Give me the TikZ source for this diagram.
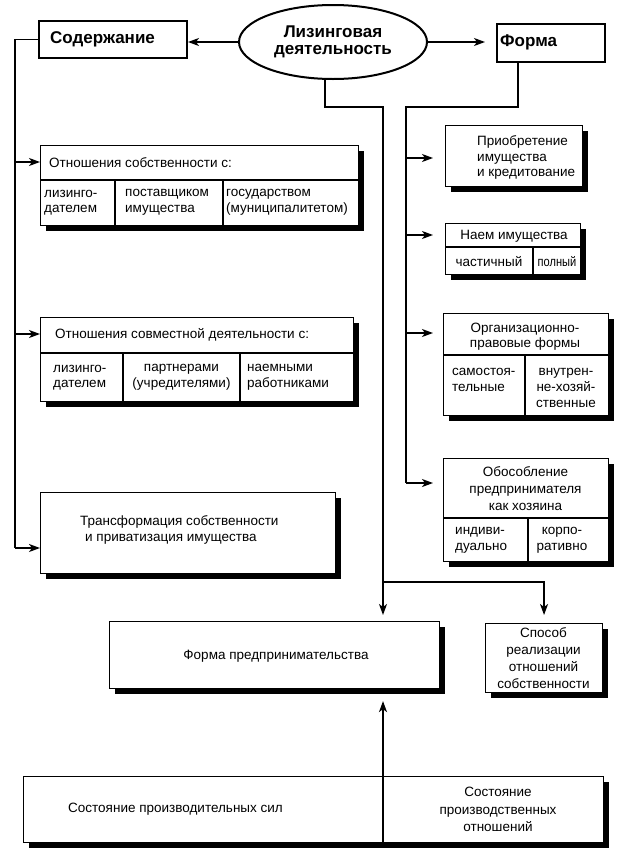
\documentclass[tikz,border=0pt]{standalone}
\usepackage{fontspec}
\usepackage{graphicx}
\setmainfont{Liberation Sans}
\usetikzlibrary{shapes.geometric,shadows,arrows.meta,calc}
\tikzset{
  bx/.style={draw, line width=1.1pt, fill=white, inner sep=0pt, anchor=north west,
    drop shadow={shadow xshift=5pt, shadow yshift=-5pt, opacity=1, fill=black}},
  hb/.style={draw, line width=2pt, fill=white, inner sep=0pt, anchor=north west},
  dv/.style={line width=1.1pt},
  ln/.style={line width=1.5pt},
  arr/.style={line width=1.5pt, -{Stealth[length=11pt,width=8pt,inset=3pt]}},
  tx/.style={inner sep=0pt, font=\fontsize{13.5}{15.5}\selectfont, align=left},
  txc/.style={inner sep=0pt, font=\fontsize{13.5}{15.5}\selectfont, align=center},
  txw/.style={inner sep=0pt, font=\fontsize{13.5}{17}\selectfont, align=center},
  big/.style={inner sep=0pt, font=\fontsize{17}{17}\selectfont\bfseries, align=center},
}
\begin{document}
\begin{tikzpicture}[x=1pt,y=-1pt]
\fill[white] (0,0) rectangle (628,868);
\useasboundingbox (0,0) rectangle (628,868);

% top nodes
\node[ellipse, draw, line width=2pt, minimum width=188pt, minimum height=74pt, inner sep=0pt, big] (ell) at (333,42) {Лизинговая\\деятельность};
\node[hb, minimum width=148pt, minimum height=37pt] (sod) at (38,20) {};
\node[big, anchor=west] (sodt) at (50,39) {Содержание};
\node[hb, minimum width=108pt, minimum height=38pt] (form) at (496,23) {};
\node[big, anchor=west] (formt) at (500,42) {Форма};

% left boxes
\node[bx, minimum width=318pt, minimum height=80pt] (b1) at (40,145) {};
\draw[dv] (b1.west |- 0,180) -- (b1.east |- 0,180);
\draw[dv] (115,180) -- (115,225);
\draw[dv] (223,180) -- (223,225);
\node[tx, anchor=west] (b1h) at (49,163) {Отношения собственности с:};
\node[tx, anchor=west] (b1a) at (44,202.5) {лизинго-\\дателем};
\node[tx, anchor=west] (b1b) at (125,202.5) {поставщиком\\имущества};
\node[tx, anchor=west] (b1c) at (226,202.5) {государством\\(муниципалитетом)};

\node[bx, minimum width=313pt, minimum height=84pt] (b2) at (40,317) {};
\draw[dv] (b2.west |- 0,353) -- (b2.east |- 0,353);
\draw[dv] (123,353) -- (123,401);
\draw[dv] (240,353) -- (240,401);
\node[tx, anchor=west] (b2h) at (55,335) {Отношения совместной деятельности с:};
\node[tx, anchor=west] (b2a) at (53,377.5) {лизинго-\\дателем};
\node[txc] (b2b) at (181.5,377.5) {партнерами\\(учредителями)};
\node[tx, anchor=west] (b2c) at (247,377.5) {наемными\\работниками};

\node[bx, minimum width=295pt, minimum height=81pt] (b3) at (40,492) {};
\node[tx, anchor=west] (b3t) at (80,530) {Трансформация собственности\\\hspace*{5pt}и приватизация имущества};

% right boxes
\node[bx, minimum width=137pt, minimum height=61pt] (r1) at (445,125) {};
\node[tx, anchor=west] (r1t) at (477,157.5) {Приобретение\\имущества\\и кредитование};

\node[bx, minimum width=135pt, minimum height=51pt] (r2) at (445,223) {};
\draw[dv] (r2.west |- 0,247) -- (r2.east |- 0,247);
\draw[dv] (533,247) -- (533,274);
\node[txc] (r2h) at (514,236) {Наем имущества};
\node[txc] (r2a) at (489,261.5) {частичный};
\node[txc] (r2b) at (557,261.5) {\scalebox{0.82}[1]{полный}};

\node[bx, minimum width=165pt, minimum height=102pt] (r3) at (443,313) {};
\draw[dv] (r3.west |- 0,355) -- (r3.east |- 0,355);
\draw[dv] (525,355) -- (525,415);
\node[txc] (r3h) at (525,336.5) {Организационно-\\правовые формы};
\node[tx, anchor=west] (r3a) at (452,380) {самостоя-\\тельные};
\node[txw, font=\fontsize{13.5}{16}\selectfont] (r3b) at (566,388) {внутрен-\\не-хозяй-\\ственные};

\node[bx, minimum width=165pt, minimum height=103pt] (r4) at (443,458) {};
\draw[dv] (r4.west |- 0,518) -- (r4.east |- 0,518);
\draw[dv] (528,518) -- (528,561);
\node[txw] (r4h) at (525.5,488.5) {Обособление\\предпринимателя\\как хозяина};
\node[tx, anchor=west] (r4a) at (455,540.5) {индиви-\\дуально};
\node[txc] (r4b) at (562,540.5) {корпо-\\ративно};

% bottom boxes
\node[bx, minimum width=330pt, minimum height=67pt] (fp) at (109,621) {};
\node[txc] (fpt) at (276,656) {Форма предпринимательства};
\node[bx, minimum width=117pt, minimum height=69pt] (sp) at (485,623) {};
\node[txw] (spt) at (543.5,658.5) {Способ\\реализации\\отношений\\собственности};
\node[bx, minimum width=580pt, minimum height=66pt] (bt) at (23,776) {};
\coordinate (dvx) at (383,776);
\draw[dv] (dvx) -- (dvx |- bt.south);
\node[tx, anchor=west] (btl) at (68,809) {Состояние производительных сил};
\node[txw, font=\fontsize{13.5}{17.5}\selectfont] (btr) at (498,809.5) {Состояние\\производственных\\отношений};

% top arrows
\draw[arr] (ell.west) -- (ell.west -| sod.east);
\draw[arr, shorten >=11pt] (ell.east) -- (ell.east -| form.west);

% left trunk
\coordinate (lb) at (15,548);
\coordinate (l1) at (15,162);
\coordinate (l2) at (15,334);
\draw[ln] (sod.west) -| (lb);
\draw[arr] (l1) -- (l1 -| b1.west);
\draw[arr] (l2) -- (l2 -| b2.west);
\draw[arr] (lb) -- (lb -| b3.west);

% right trunk
\coordinate (fdrop) at ($(form.south west)!0.2!(form.south east)$);
\coordinate (rt) at (406,107);
\coordinate (q1) at (406,158);
\coordinate (q2) at (406,235);
\coordinate (q3) at (406,333);
\coordinate (q4) at (406,483);
\draw[ln] (fdrop) |- (rt) -- (q4);
\draw[arr, shorten >=12pt] (q1) -- (q1 -| r1.west);
\draw[arr, shorten >=12pt] (q2) -- (q2 -| r2.west);
\draw[arr, shorten >=10pt] (q3) -- (q3 -| r3.west);
\draw[arr, shorten >=10pt] (q4) -- (q4 -| r4.west);

% central trunk
\coordinate (edrop) at ($(ell.south)+(-8,0)$);
\coordinate (et) at (383,107);
\coordinate (eb) at (383,582);
\draw[ln] (edrop) |- (et) -- (eb);
\draw[arr, shorten >=6pt] (eb) -- (eb |- fp.north);
\draw[arr, shorten >=8pt] (eb) -| (sp.north);
\draw[arr, shorten >=12pt] (dvx) -- (dvx |- fp.south);
\end{tikzpicture}
\end{document}
